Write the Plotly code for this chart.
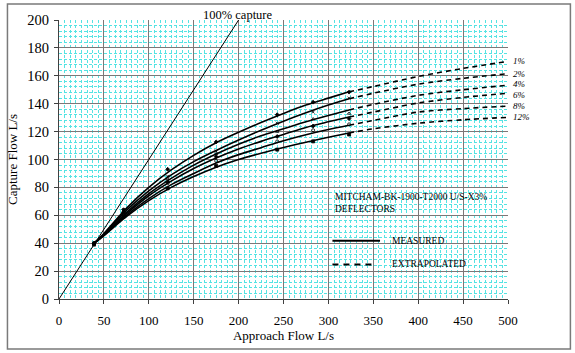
import plotly.graph_objects as go

# ---- data ----
series_names = ["1%", "2%", "4%", "6%", "8%", "12%"]

fit_x = [40, 50, 75, 100, 125, 150, 175, 200, 225, 250, 275, 300, 323]
fit_y = {
    "1%":  [40.5, 47.0, 65.0, 80.0, 92.5, 103.0, 112.0, 119.5, 126.5, 133.0, 139.0, 144.0, 148.5],
    "2%":  [40.5, 46.5, 63.5, 77.5, 89.0, 98.5, 106.5, 114.0, 121.0, 127.5, 133.5, 139.0, 143.5],
    "4%":  [40.5, 46.0, 62.0, 75.5, 86.5, 96.0, 104.0, 111.0, 117.0, 122.0, 127.0, 131.5, 135.5],
    "6%":  [40.5, 45.8, 61.0, 74.0, 84.5, 93.5, 101.0, 107.5, 113.0, 118.0, 123.0, 127.0, 130.5],
    "8%":  [40.5, 45.6, 60.0, 72.0, 82.0, 90.0, 97.5, 103.5, 108.5, 113.5, 117.8, 121.5, 124.5],
    "12%": [40.5, 45.5, 59.0, 70.5, 80.0, 87.8, 94.5, 100.0, 104.5, 108.6, 112.4, 115.9, 119.0],
}

ext_x = [323, 350, 400, 450, 500]
ext_y = {
    "1%":  [148.5, 152.3, 159.5, 165.3, 170.3],
    "2%":  [143.5, 147.5, 154.0, 158.2, 161.5],
    "4%":  [135.5, 139.5, 146.0, 150.0, 153.3],
    "6%":  [130.5, 134.0, 140.5, 144.5, 147.5],
    "8%":  [124.5, 128.0, 134.0, 136.5, 138.3],
    "12%": [119.0, 122.0, 126.0, 128.5, 130.2],
}

meas_x = [39, 72, 121, 175, 243, 283, 323]
meas_y = {
    "1%":  [39.5, 64.0, 93.0, 112.6, 132.1, 141.1, 148.3],
    "2%":  [40.0, 64.0, 88.0, 106.0, 126.0, 134.0, 144.0],
    "4%":  [40.0, 63.0, 86.0, 104.0, 120.0, 129.0, 133.0],
    "6%":  [40.0, 62.0, 84.0, 102.0, 116.5, 124.0, 129.3],
    "8%":  [40.0, 61.0, 83.0, 99.0, 113.0, 121.0, 125.2],
    "12%": [39.0, 59.0, 79.3, 95.4, 107.1, 113.0, 117.9],
}
marker_symbols = {
    "1%": "diamond", "2%": "x-thin-open", "4%": "triangle-up-open",
    "6%": "diamond", "8%": "circle-open", "12%": "square",
}
label_shift = {"1%": 0, "2%": 0, "4%": 1.5, "6%": -1.5, "8%": 0, "12%": 0}

capture_x = [0, 200]
capture_y = [0, 200]

FONT = "Liberation Serif"

fig = go.Figure()

# 100% capture line
fig.add_trace(go.Scatter(x=capture_x, y=capture_y, mode="lines",
                         line=dict(color="black", width=1), hoverinfo="skip"))

for name in series_names:
    fig.add_trace(go.Scatter(x=fit_x, y=fit_y[name], mode="lines",
                             line=dict(color="black", width=1.6, shape="spline", smoothing=0.8)))
    fig.add_trace(go.Scatter(x=ext_x, y=ext_y[name], mode="lines",
                             line=dict(color="black", width=1.6, dash="5px,4px",
                                       shape="spline", smoothing=0.8)))
    fig.add_trace(go.Scatter(x=meas_x, y=meas_y[name], mode="markers",
                             marker=dict(symbol=marker_symbols[name], size=3, color="black",
                                         line=dict(color="black", width=0.8))))
    fig.add_annotation(x=1.006, xref="paper", y=ext_y[name][-1], yref="y",
                       text="<i>" + name + "</i>", showarrow=False, xanchor="left",
                       yanchor="middle", yshift=label_shift[name],
                       font=dict(family=FONT, size=9, color="black"))

# labels
fig.add_annotation(x=capture_x[1], y=capture_y[1], text="100% capture", showarrow=False,
                   xanchor="center", yanchor="bottom", yshift=-4, xshift=-1,
                   font=dict(family=FONT, size=12.5, color="black"))

fig.add_annotation(x=0.611, y=0.39, xref="paper", yref="paper",
                   text="MITCHAM-BK-1900-T2000 U/S-X3%<br>DEFLECTORS", align="left",
                   showarrow=False, xanchor="left", yanchor="top",
                   font=dict(family=FONT, size=9.5, color="black"))
fig.add_annotation(x=0.737, y=0.209, xref="paper", yref="paper", text="MEASURED",
                   showarrow=False, xanchor="left", yanchor="middle",
                   font=dict(family=FONT, size=9.5, color="black"))
fig.add_annotation(x=0.737, y=0.124, xref="paper", yref="paper", text="EXTRAPOLATED",
                   showarrow=False, xanchor="left", yanchor="middle",
                   font=dict(family=FONT, size=9.5, color="black"))
fig.add_shape(type="line", xref="paper", yref="paper", x0=0.609, x1=0.715, y0=0.209, y1=0.209,
              line=dict(color="black", width=2))
fig.add_shape(type="line", xref="paper", yref="paper", x0=0.609, x1=0.706, y0=0.124, y1=0.124,
              line=dict(color="black", width=2, dash="6px,5px"))

# outer frame
fig.add_shape(type="rect", xref="paper", yref="paper", x0=-0.1148, x1=1.139, y0=-0.1795, y1=1.057,
              line=dict(color="#7a7a7a", width=1.5), layer="below")

fig.update_layout(
    width=575, height=353,
    margin=dict(l=55, r=67, t=19, b=54),
    paper_bgcolor="white", plot_bgcolor="white",
    showlegend=False,
    font=dict(family=FONT, color="black"),
)
fig.update_xaxes(
    range=[0, 500], dtick=50, tick0=0,
    showgrid=True, gridcolor="#7d7777", gridwidth=1,
    minor=dict(dtick=6.25, showgrid=True, gridcolor="#55e3e3", gridwidth=1, griddash="3px,2px"),
    showline=True, linecolor="#404040", linewidth=1, mirror=False,
    ticks="outside", ticklen=4, tickcolor="#404040",
    tickfont=dict(family=FONT, size=13, color="black"),
    ticklabelstandoff=5,
    title=dict(text="Approach Flow L/s", font=dict(family=FONT, size=13, color="black"), standoff=4),
    zeroline=False,
)
fig.update_yaxes(
    range=[0, 200], dtick=20, tick0=0,
    showgrid=True, gridcolor="#7d7777", gridwidth=1,
    minor=dict(dtick=4, showgrid=True, gridcolor="#55e3e3", gridwidth=1, griddash="3px,2px"),
    showline=True, linecolor="#404040", linewidth=1,
    ticks="outside", ticklen=4, tickcolor="#404040",
    tickfont=dict(family=FONT, size=14.5, color="black"),
    ticklabelstandoff=2,
    title=dict(text="Capture Flow L/s", font=dict(family=FONT, size=13, color="black"), standoff=6),
    zeroline=False,
)

fig.write_html("out.html")
